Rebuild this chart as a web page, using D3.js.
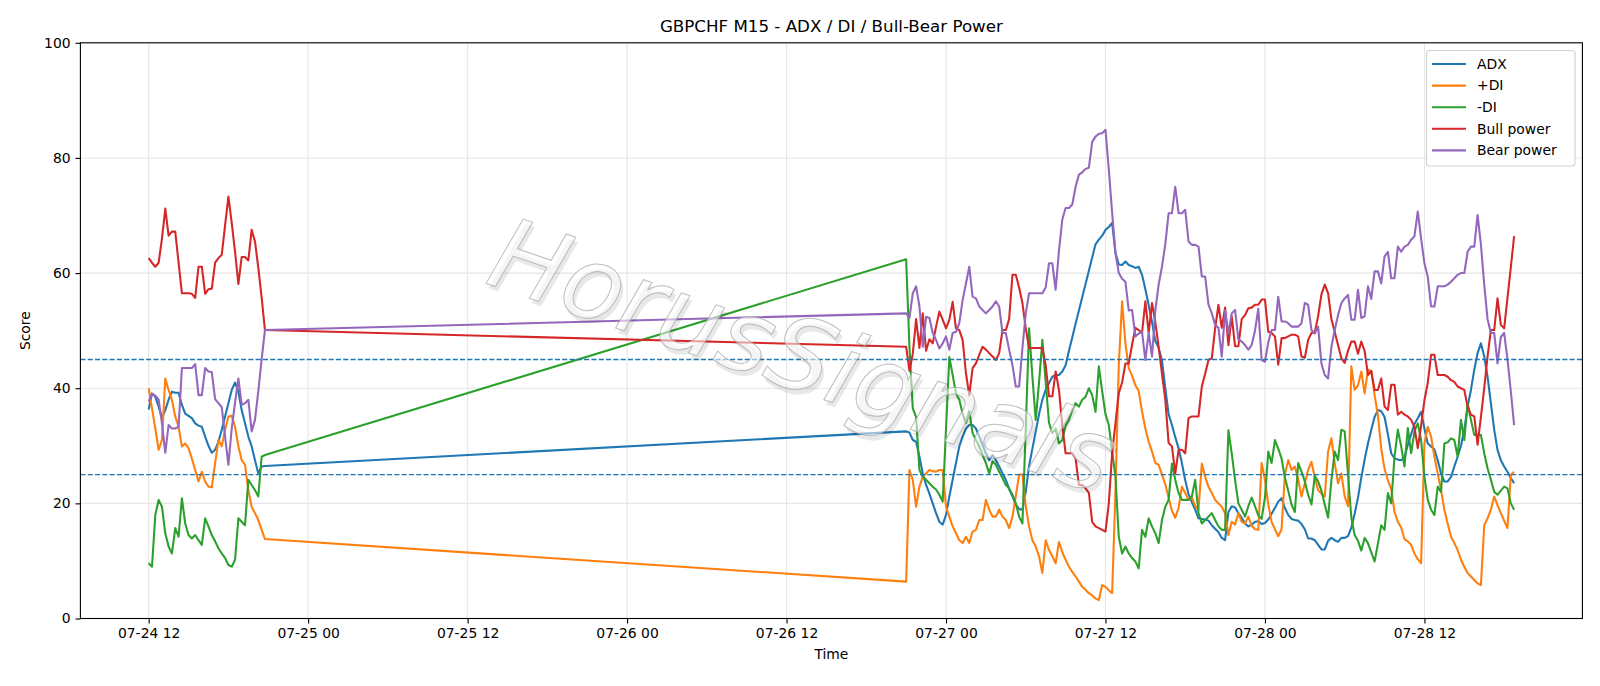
<!DOCTYPE html>
<html><head><meta charset="utf-8">
<script src="https://cdn.jsdelivr.net/npm/d3@7"></script>
<style>
body{margin:0;background:#fff}
svg{display:block}
text{font-family:"DejaVu Sans","Liberation Sans",sans-serif}
</style>
</head><body>
<svg id="chart" width="1600" height="686"></svg>
<script>
// ---------- data ----------
const titleText = "GBPCHF M15 - ADX / DI / Bull-Bear Power";
const segmentStarts = ["2025-07-24T12:00:00Z", "2025-07-26T21:00:00Z"];
const segmentCounts = [36, 184];
const stepMinutes = 15;

const xTickValues = ["2025-07-24T12:00:00Z","2025-07-25T00:00:00Z","2025-07-25T12:00:00Z","2025-07-26T00:00:00Z","2025-07-26T12:00:00Z","2025-07-27T00:00:00Z","2025-07-27T12:00:00Z","2025-07-28T00:00:00Z","2025-07-28T12:00:00Z"];
const yTickValues = [0, 20, 40, 60, 80, 100];
const thresholdLevels = [45, 25];

const adx = [
36.3,39.1,38.5,36.8,34.8,36.2,38.0,39.4,39.2,39.2,37.1,35.6,35.2,34.8,33.9,33.5,33.3,31.6,30.0,28.8,29.3,30.7,32.8,35.1,37.4,39.7,41.0,39.4,36.2,33.9,31.6,29.9,27.5,25.2,26.4,26.5,
32.5,32.3,31.0,30.7,28.1,25.2,23.2,21.7,20.0,18.3,
16.8,16.3,18.0,21.2,24.1,27.0,29.9,31.6,33.0,33.6,
33.6,33.0,31.6,30.2,28.7,27.5,28.4,27.5,26.4,25.2,
24.1,22.5,21.2,19.8,19.0,18.9,22.0,26.5,29.5,32.5,
35.5,38.0,39.7,40.9,42.0,42.3,42.3,42.9,44.0,46.5,
48.8,51.2,53.5,55.8,58.1,60.4,62.7,65.0,65.8,66.5,
67.5,68.0,68.7,63.5,61.5,61.4,62.0,61.4,61.2,60.9,
61.1,59.7,57.2,54.4,51.5,48.2,47.0,44.8,40.0,35.5,
33.6,31.5,29.6,27.0,24.0,21.6,20.2,18.9,17.4,17.3,
17.2,17.0,16.2,15.6,15.0,14.0,13.6,18.5,19.5,19.3,
18.3,17.5,16.5,16.0,16.3,16.8,16.9,16.4,16.6,17.2,
18.2,19.2,20.3,20.9,19.2,18.0,17.3,17.1,17.0,16.4,
15.5,13.9,13.9,13.6,12.8,12.0,12.0,13.5,14.0,13.6,
13.3,14.0,14.0,14.3,15.8,18.2,21.0,24.5,27.6,30.4,
32.8,35.0,36.2,36.0,35.0,32.0,28.7,27.8,27.6,27.5,
28.0,30.2,32.0,33.8,34.8,35.9,33.0,30.4,29.9,29.4,
27.5,25.2,23.8,23.8,24.6,26.4,28.1,30.0,32.8,36.8,
39.7,43.2,46.1,47.8,45.5,42.0,37.4,32.8,29.3,27.5,
26.4,25.5,24.4,23.5];

const plusDI = [
40.0,36.5,33.0,29.3,31.0,41.7,39.7,38.0,35.1,33.3,29.9,30.4,29.6,27.8,25.8,23.8,25.5,23.8,22.9,22.8,27.0,31.0,29.9,32.8,35.1,35.2,33.3,29.9,27.5,26.7,22.3,19.4,18.3,17.1,15.4,13.8,
6.4,25.8,24.1,19.4,22.9,24.6,25.2,25.8,25.6,25.5,
25.8,25.8,19.4,17.7,16.0,14.8,13.6,13.1,14.2,13.1,
15.1,15.4,17.1,17.1,20.6,18.9,17.7,17.7,18.9,17.7,
17.1,15.7,17.7,21.2,25.0,25.0,19.5,16.0,13.6,12.5,
10.8,7.9,13.6,11.9,10.8,9.6,13.3,11.5,10.2,9.0,
8.1,7.3,6.4,5.5,5.0,4.4,4.0,3.5,3.2,5.8,
5.5,4.9,4.4,22.0,44.0,55.1,47.8,43.5,42.2,40.5,
39.5,36.0,33.0,30.7,29.0,27.0,26.7,25.0,23.3,21.0,
18.7,17.5,19.2,22.9,21.8,20.6,21.0,19.5,18.9,26.9,
24.6,22.9,21.8,20.6,20.0,19.4,18.3,14.5,16.8,16.3,
18.3,16.8,16.5,17.7,16.1,15.5,15.4,27.0,24.1,19.8,
16.8,15.5,14.3,15.5,25.0,27.5,25.8,26.4,24.2,21.2,
23.5,25.8,27.2,24.5,22.3,21.7,21.2,29.0,31.3,27.0,
23.5,25.2,21.2,19.5,43.8,39.7,40.5,42.9,39.1,43.2,
43.0,38.8,35.3,29.5,26.0,24.0,22.5,18.5,16.8,15.8,
13.8,13.4,12.8,11.3,10.3,9.6,30.4,33.3,31.6,28.1,
25.2,22.3,18.9,16.5,14.2,13.1,11.9,10.2,9.0,7.9,
7.3,6.7,6.1,5.8,16.2,17.4,18.9,21.2,19.7,18.3,
17.0,15.7,24.9,25.5];

const minusDI = [
9.6,9.0,18.0,20.6,19.4,14.8,12.5,11.3,15.7,14.2,20.9,16.5,14.5,13.9,14.5,13.6,12.8,17.4,16.0,14.5,13.4,12.2,11.3,10.5,9.3,9.0,10.2,17.4,16.8,16.2,24.1,23.2,22.3,21.2,28.1,28.4,
62.4,47.0,36.5,35.0,25.8,24.6,24.1,23.5,22.9,22.4,
21.5,20.3,33.0,45.4,42.3,39.1,38.0,35.6,33.9,36.0,
32.2,31.0,29.9,28.4,27.0,25.2,27.3,26.7,25.5,24.4,
23.2,22.6,21.5,20.0,17.7,16.5,33.0,50.4,42.0,34.5,
41.0,48.4,41.0,34.0,32.2,33.0,30.4,31.0,33.5,34.5,
36.2,37.4,36.8,38.0,38.5,40.0,38.8,35.9,43.8,39.5,
35.5,33.6,29.0,24.7,14.2,11.3,12.5,11.3,10.5,9.9,
8.7,15.4,14.2,17.4,16.0,14.8,13.1,17.1,19.4,20.6,
26.9,24.1,21.8,20.6,20.6,20.6,21.2,24.1,18.3,16.5,
17.1,17.7,18.3,17.1,16.0,15.4,15.4,32.7,28.7,24.1,
20.0,18.9,17.7,19.5,21.0,19.5,17.9,17.3,21.0,29.0,
27.0,31.0,29.5,27.8,24.5,22.2,19.8,18.5,27.0,25.5,
23.8,21.5,19.8,24.8,23.8,22.2,19.8,17.5,24.0,29.0,
27.5,32.8,32.5,25.0,17.5,14.5,13.5,11.8,14.0,13.1,
11.5,9.9,13.0,16.2,15.4,21.8,20.0,28.1,32.8,29.9,
26.4,33.1,28.7,32.5,33.9,31.0,24.6,20.6,18.9,18.0,
22.9,22.0,30.4,30.6,31.3,31.0,28.1,34.5,31.0,37.4,
34.5,31.9,31.9,31.9,28.7,26.1,24.1,22.0,21.5,22.2,
22.9,22.6,20.0,18.9];

const bullPower = [
62.6,61.8,61.1,61.8,66.0,71.2,66.5,67.2,67.2,61.8,56.5,56.5,56.5,56.4,55.7,61.1,61.1,56.4,57.2,57.3,61.8,62.6,63.2,68.3,73.3,68.7,63.7,58.1,62.8,62.8,62.2,67.5,65.5,60.9,55.8,50.1,
47.2,43.0,46.0,52.0,47.0,53.0,46.5,48.5,47.8,50.7,
53.3,51.9,50.4,51.9,55.0,50.4,50.1,48.4,42.6,38.8,
43.5,44.3,45.8,47.2,46.7,46.1,45.5,44.9,46.1,50.1,
50.1,52.0,59.7,59.7,57.5,54.8,50.4,47.0,47.0,47.0,
47.0,47.0,44.0,38.6,38.6,42.9,39.7,33.5,28.7,28.7,
28.7,27.8,23.2,23.2,22.6,21.8,16.8,16.0,15.7,15.4,
15.1,20.0,28.7,33.9,39.1,41.0,44.3,44.3,47.5,50.5,
50.1,49.6,55.1,49.6,54.8,51.5,47.2,42.6,38.0,30.5,
29.9,25.2,29.3,29.3,28.7,34.8,35.1,35.1,35.1,40.3,
42.5,44.9,45.2,50.4,54.5,50.5,54.0,47.5,52.5,47.3,
47.3,52.0,52.7,53.9,54.0,54.5,54.5,55.4,55.4,49.8,
49.6,49.0,44.1,48.7,48.7,49.0,49.3,49.3,49.0,45.5,
45.3,48.4,49.6,49.7,52.5,56.3,58.0,56.5,52.0,49.8,
47.5,45.2,44.4,46.5,48.1,48.1,46.0,48.1,46.5,42.3,
43.0,39.7,39.7,41.7,36.8,36.2,40.6,40.6,35.4,35.9,
35.4,35.1,34.5,33.3,29.6,33.5,37.9,40.9,45.8,45.8,
42.3,42.3,42.3,42.0,41.4,41.1,40.3,40.0,39.7,36.8,
35.4,35.1,30.2,35.0,40.0,45.5,50.1,50.1,55.6,51.0,
50.4,55.7,61.0,66.4];

const bearPower = [
37.7,39.0,38.7,38.0,33.9,28.8,33.6,33.0,33.0,33.3,43.5,43.5,43.5,43.5,44.2,38.8,38.8,43.5,42.9,42.8,38.1,37.4,36.7,31.6,26.7,33.0,37.5,41.7,37.1,37.4,38.0,32.5,34.5,39.5,45.0,50.1,
53.0,52.2,56.5,57.7,54.2,47.2,52.4,52.2,49.6,48.4,
46.9,47.8,49.0,46.7,49.6,49.8,51.3,55.3,58.2,61.1,
55.9,55.6,54.2,53.6,53.0,53.6,54.2,55.1,54.2,49.6,
49.6,46.7,44.0,40.3,40.3,47.0,53.0,56.5,56.5,56.5,
56.5,56.5,57.5,61.7,61.7,57.1,63.9,69.3,71.3,71.3,
71.9,75.0,77.1,77.5,78.1,78.3,82.8,83.7,84.2,84.3,
84.9,78.0,70.5,63.5,60.0,59.0,58.5,53.5,53.6,49.0,
49.5,49.8,44.9,49.6,45.5,53.5,58.0,61.1,65.0,70.4,
70.4,75.0,70.4,70.4,71.0,65.5,64.9,64.9,64.6,59.4,
59.4,54.5,53.0,51.0,50.5,45.5,53.5,49.5,53.0,53.6,
48.5,48.1,47.5,46.7,47.5,50.0,53.8,44.9,44.6,48.0,
50.1,50.1,55.9,51.6,51.6,51.3,50.7,50.7,50.7,51.3,
54.8,54.5,50.1,49.5,50.7,44.3,42.3,41.7,47.2,50.1,
52.7,54.8,55.6,56.2,51.9,51.9,57.1,52.2,52.5,57.7,
55.5,60.3,60.3,58.2,62.9,63.7,59.1,59.1,64.6,63.7,
64.6,64.9,65.8,66.4,70.7,66.0,61.7,59.4,54.2,54.2,
57.7,57.7,57.7,58.0,58.5,59.1,59.7,60.0,60.0,63.7,
64.6,64.6,70.1,65.0,58.0,52.0,49.6,49.6,44.3,48.9,
49.6,45.0,39.5,33.6];

const seriesNames = ["ADX", "+DI", "-DI", "Bull power", "Bear power"];
const seriesValues = [adx, plusDI, minusDI, bullPower, bearPower];
const seriesColors = ["#1f77b4", "#ff7f0e", "#2ca02c", "#d62728", "#9467bd"];

// ---------- timestamps ----------
const times = [];
segmentStarts.forEach((s, k) => {
  const t0 = new Date(s).getTime();
  for (let i = 0; i < segmentCounts[k]; i++) times.push(new Date(t0 + i * stepMinutes * 60000));
});

// ---------- layout ----------
const plot = {left: 80.4, right: 1582.4, top: 42.8, bottom: 618.5};
const svg = d3.select("#chart");

const tMin = times[0].getTime(), tMax = times[times.length - 1].getTime();
const pad = (tMax - tMin) * 0.05;
const x = d3.scaleUtc().domain([new Date(tMin - pad), new Date(tMax + pad)]).range([plot.left, plot.right]);
const y = d3.scaleLinear().domain([0, 100]).range([plot.bottom, plot.top]);

// grid
const grid = svg.append("g").attr("stroke", "#e6e6e6").attr("stroke-width", 1.1);
xTickValues.forEach(v => {
  const xv = x(new Date(v));
  grid.append("line").attr("x1", xv).attr("x2", xv).attr("y1", plot.top).attr("y2", plot.bottom);
});
yTickValues.forEach(v => {
  grid.append("line").attr("x1", plot.left).attr("x2", plot.right).attr("y1", y(v)).attr("y2", y(v));
});

// series lines
const line = d3.line().x((d, i) => x(times[i])).y(d => y(d));
const linesG = svg.append("g");
seriesValues.forEach((vals, k) => {
  linesG.append("path").datum(vals)
    .attr("d", line)
    .attr("fill", "none")
    .attr("stroke", seriesColors[k])
    .attr("stroke-width", 2.08)
    .attr("stroke-linejoin", "round")
    .attr("stroke-linecap", "butt");
});

// threshold lines
thresholdLevels.forEach(v => {
  svg.append("line").attr("x1", plot.left).attr("x2", plot.right)
    .attr("y1", y(v)).attr("y2", y(v))
    .attr("stroke", "#1f77b4").attr("stroke-width", 1.39)
    .attr("stroke-dasharray", "5.1,2.2");
});

// watermark
const wm = svg.append("g").attr("transform", "translate(803,356) rotate(19)").attr("pointer-events", "none");
wm.append("text").attr("x", 4).attr("y", 4)
  .attr("text-anchor", "middle").attr("dominant-baseline", "central")
  .attr("font-size", 100).attr("font-style", "italic").attr("font-weight", 200)
  .attr("fill", "#000").attr("fill-opacity", 0.09)
  .text("HorusSignals");
wm.append("text")
  .attr("text-anchor", "middle").attr("dominant-baseline", "central")
  .attr("font-size", 100).attr("font-style", "italic").attr("font-weight", 200)
  .attr("fill", "#ffffff").attr("fill-opacity", 0.55)
  .attr("stroke", "#a8a8a8").attr("stroke-width", 1.0).attr("stroke-opacity", 0.75)
  .text("HorusSignals");

// axes
const fmt = d3.utcFormat("%m-%d %H");
const xAxis = d3.axisBottom(x).tickValues(xTickValues.map(v => new Date(v)))
  .tickFormat(fmt).tickSize(4.9).tickPadding(4.9).tickSizeOuter(0);
const gx = svg.append("g").attr("transform", `translate(0,${plot.bottom})`).call(xAxis);
const yAxis = d3.axisLeft(y).tickValues(yTickValues).tickSize(4.9).tickPadding(4.9).tickSizeOuter(0);
const gy = svg.append("g").attr("transform", `translate(${plot.left},0)`).call(yAxis);
[gx, gy].forEach(g => {
  g.select(".domain").remove();
  g.selectAll(".tick line").attr("stroke", "#000").attr("stroke-width", 1.1);
  g.selectAll(".tick text").attr("font-size", 13.9).attr("fill", "#000")
    .attr("font-family", "DejaVu Sans, sans-serif");
});

// frame
svg.append("rect").attr("x", plot.left).attr("y", plot.top)
  .attr("width", plot.right - plot.left).attr("height", plot.bottom - plot.top)
  .attr("fill", "none").attr("stroke", "#000").attr("stroke-width", 1.1);

// labels
svg.append("text").attr("x", (plot.left + plot.right) / 2).attr("y", 32)
  .attr("text-anchor", "middle").attr("font-size", 16.7).attr("fill", "#000").text(titleText);
svg.append("text").attr("x", (plot.left + plot.right) / 2).attr("y", 659)
  .attr("text-anchor", "middle").attr("font-size", 13.9).attr("fill", "#000").text("Time");
svg.append("text").attr("transform", `translate(30,${(plot.top + plot.bottom) / 2}) rotate(-90)`)
  .attr("text-anchor", "middle").attr("font-size", 13.9).attr("fill", "#000").text("Score");

// legend
const lg = svg.append("g");
lg.append("rect").attr("x", 1426.5).attr("y", 50.5).attr("width", 148.5).attr("height", 115.5)
  .attr("rx", 3).attr("fill", "#fff").attr("fill-opacity", 0.8)
  .attr("stroke", "#d0d0d0").attr("stroke-width", 1.1);
seriesNames.forEach((n, k) => {
  const yy = 64 + k * 21.6;
  lg.append("line").attr("x1", 1432).attr("x2", 1466).attr("y1", yy).attr("y2", yy)
    .attr("stroke", seriesColors[k]).attr("stroke-width", 2.08);
  lg.append("text").attr("x", 1477).attr("y", yy).attr("dy", "0.35em")
    .attr("font-size", 13.9).attr("fill", "#000").text(n);
});
</script>
</body></html>
